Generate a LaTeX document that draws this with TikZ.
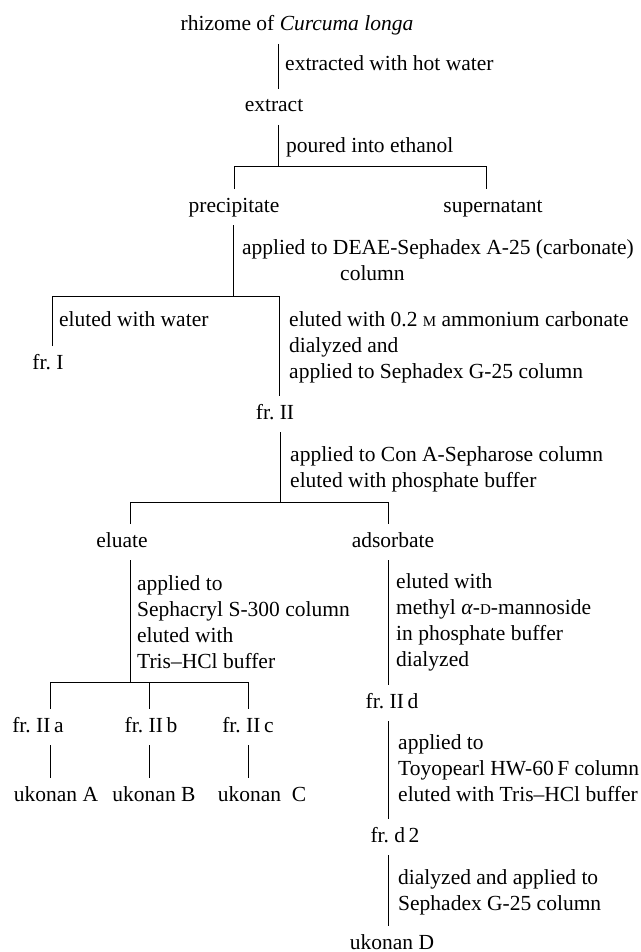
\documentclass[tikz,border=0pt]{standalone}
\usepackage{fontspec}
\setmainfont{Liberation Serif}

\newcommand{\smallcap}[1]{{\fontsize{15pt}{15pt}\selectfont #1}}

\begin{document}
\begin{tikzpicture}[x=1pt, y=-1pt, font=\fontsize{21.5pt}{26pt}\selectfont]
      % Define block styles
      \tikzstyle{stage} = [anchor=base, inner xsep=1pt, inner ysep=0pt, text height=15pt, text depth=5pt, outer ysep=8pt]
      \tikzstyle{treat} = [anchor=base west, align=left, inner sep=0pt]
      \tikzstyle{line} = [draw, line width=1pt]

      \useasboundingbox (0,0) rectangle (640,952);

      % Place fractions
      \node [stage] (rhizome) at (297,31) {rhizome of \textit{Curcuma longa}};
      \node [stage] (extract) at (274,112) {extract};
      \node [stage] (precip) at (234,212) {precipitate};
      \node [stage] (super) at (493,212) {supernatant};
      \node [stage] (frI) at (48,369) {fr.\ I};
      \node [stage] (frII) at (275,419) {fr.\ II};
      \node [stage] (eluate) at (122,547) {eluate};
      \node [stage] (adsorb) at (393,547) {adsorbate};
      \node [stage] (frIIa) at (38,732) {fr.\ II\,a};
      \node [stage] (frIIb) at (151,732) {fr.\ II\,b};
      \node [stage] (frIIc) at (248,732) {fr.\ II\,c};
      \node [stage] (ukA) at (56,801) {ukonan A};
      \node [stage] (ukB) at (154,801) {ukonan B};
      \node [stage] (ukC) at (262,801) {ukonan\ \ C};
      \node [stage] (frIId) at (392,708) {fr.\ II\,d};
      \node [stage] (frd2) at (395,842) {fr.\ d\,2};
      \node [stage] (ukD) at (392,949) {ukonan D};

      % Place treatments (at the baseline of the last line)
      \node [treat] (hotwater) at (285,71) {extracted with hot water};
      \node [treat] (ethanol) at (286,153) {poured into ethanol};
      \node [treat] (deae) at (242,280) {applied to DEAE-Sephadex A-25 (carbonate)\\\hspace*{98pt}column};
      \node [treat] (water) at (59,326) {eluted with water};
      \node [treat] (ammon) at (289,378) {eluted with 0.2 \smallcap{M} ammonium carbonate\\dialyzed and\\applied to Sephadex G-25 column};
      \node [treat] (cona) at (290,487) {applied to Con A-Sepharose column\\eluted with phosphate buffer};
      \node [treat] (sephacryl) at (137,668) {applied to\\Sephacryl S-300 column\\eluted with\\Tris--HCl buffer};
      \node [treat] (mannose) at (396,666) {eluted with\\methyl \textit{α}-\smallcap{D}-mannoside\\in phosphate buffer\\dialyzed};
      \node [treat] (toyo) at (398,801) {applied to\\Toyopearl HW-60\,F column\\eluted with Tris--HCl buffer};
      \node [treat] (g25) at (398,910) {dialyzed and applied to\\Sephadex G-25 column};

      % Junctions
      \coordinate (j1) at (278,167);
      \coordinate (s1) at (486,167);
      \coordinate (j2) at (233,296);
      \coordinate (b2l) at (52,296);
      \coordinate (b2r) at (279,296);
      \coordinate (j3) at (280,502);
      \coordinate (b3l) at (130,502);
      \coordinate (b3r) at (388,502);
      \coordinate (j4) at (130,682);
      \coordinate (b4a) at (50,682);
      \coordinate (b4b) at (149,682);
      \coordinate (b4c) at (248,682);

      % Draw lines
      \path [line] (rhizome.south -| j1) -- (extract.north -| j1);
      \path [line] (extract.south -| j1) -- (j1);
      \path [line] (precip.north) |- (s1) -- (s1 |- super.north);
      \path [line] (precip.south -| j2) -- (j2);
      \path [line] (b2l |- frI.north) -- (b2l) -- (b2r) -- (b2r |- frII.north);
      \path [line] (frII.south -| j3) -- (j3);
      \path [line] (b3l |- eluate.north) -- (b3l) -- (b3r) -- (b3r |- adsorb.north);
      \path [line] (eluate.south -| j4) -- (j4);
      \path [line] (b4a |- frIIa.north) -- (b4a) -- (b4c) -- (b4c |- frIIc.north);
      \path [line] (b4b) -- (b4b |- frIIb.north);
      \foreach \fr/\uk/\b in {frIIa/ukA/b4a, frIIb/ukB/b4b, frIIc/ukC/b4c}
        \path [line] (\fr.south -| \b) -- (\uk.north -| \b);
      \path [line] (adsorb.south -| b3r) -- (frIId.north -| b3r);
      \path [line] (frIId.south -| b3r) -- (frd2.north -| b3r);
      \path [line] (frd2.south -| b3r) -- (ukD.north -| b3r);
\end{tikzpicture}
\end{document}
